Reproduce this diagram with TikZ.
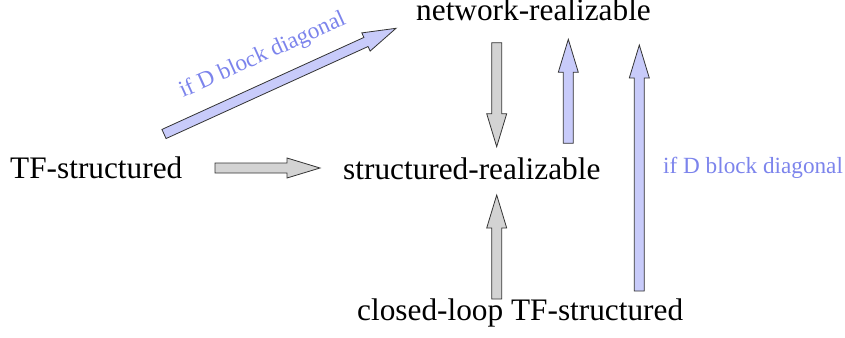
\documentclass[tikz,border=0pt]{standalone}
\usepackage{fontspec}
\setmainfont{Liberation Serif}
\newfontfamily\tmsfont{Liberation Serif}
\usetikzlibrary{calc}
\definecolor{arrgray}{HTML}{D3D3D3}
\definecolor{arrblue}{HTML}{C8CBFA}
\definecolor{lblblue}{HTML}{7C84EC}
\definecolor{edge}{HTML}{333333}
\tikzset{
  lbl/.style={inner sep=0pt, anchor=base west, font=\tmsfont\fontsize{31.3}{36}\selectfont},
  bluelbl/.style={inner sep=0pt, anchor=base west, text=lblblue, font=\tmsfont\fontsize{23.2}{27}\selectfont},
  fatline/.style={draw=edge, line width=0.8pt, line join=miter}
}
\newcommand\fatarrow[3]{%
  \coordinate (fatH) at ($(#3)!33pt!(#2)$);
  \draw[fatline, fill=#1]
    ($(#2)!5pt!90:(#3)$) -- ($(fatH)!5pt!90:(#3)$) -- ($(fatH)!10pt!90:(#3)$) -- (#3)
    -- ($(fatH)!10pt!-90:(#3)$) -- ($(fatH)!5pt!-90:(#3)$) -- ($(#2)!5pt!-90:(#3)$) -- cycle;
}
\begin{document}
\begin{tikzpicture}[x=1pt,y=-1pt]
\useasboundingbox (0,0) rectangle (845,337);
\node[lbl] (net) at (416,21) {network-realizable};
\node[lbl] (tfs) at (10,178) {TF-structured};
\node[lbl] (sr) at (343,179) {structured-realizable};
\node[lbl] (cl) at (357,320) {closed-loop TF-structured};
\node[bluelbl] (lblr) at (663,173) {if D block diagonal};
\node[bluelbl, rotate=24.3] (lbld) at (183,98) {if D block diagonal};

\coordinate (h1) at (215,168);   \coordinate (h2) at (320,168);
\coordinate (d1) at (496.7,42.7); \coordinate (d2) at (496.7,146.7);
\coordinate (m1) at (568.3,143.3); \coordinate (m2) at (568.3,39.3);
\coordinate (l1) at (639.3,291);  \coordinate (l2) at (639.3,45);
\coordinate (u1) at (496.7,299);  \coordinate (u2) at (496.7,195);
\coordinate (g1) at (164,134);    \coordinate (g2) at (396,28.3);

\fatarrow{arrgray}{h1}{h2}
\fatarrow{arrgray}{d1}{d2}
\fatarrow{arrblue}{m1}{m2}
\fatarrow{arrblue}{l1}{l2}
\fatarrow{arrgray}{u1}{u2}
\fatarrow{arrblue}{g1}{g2}
\end{tikzpicture}
\end{document}
